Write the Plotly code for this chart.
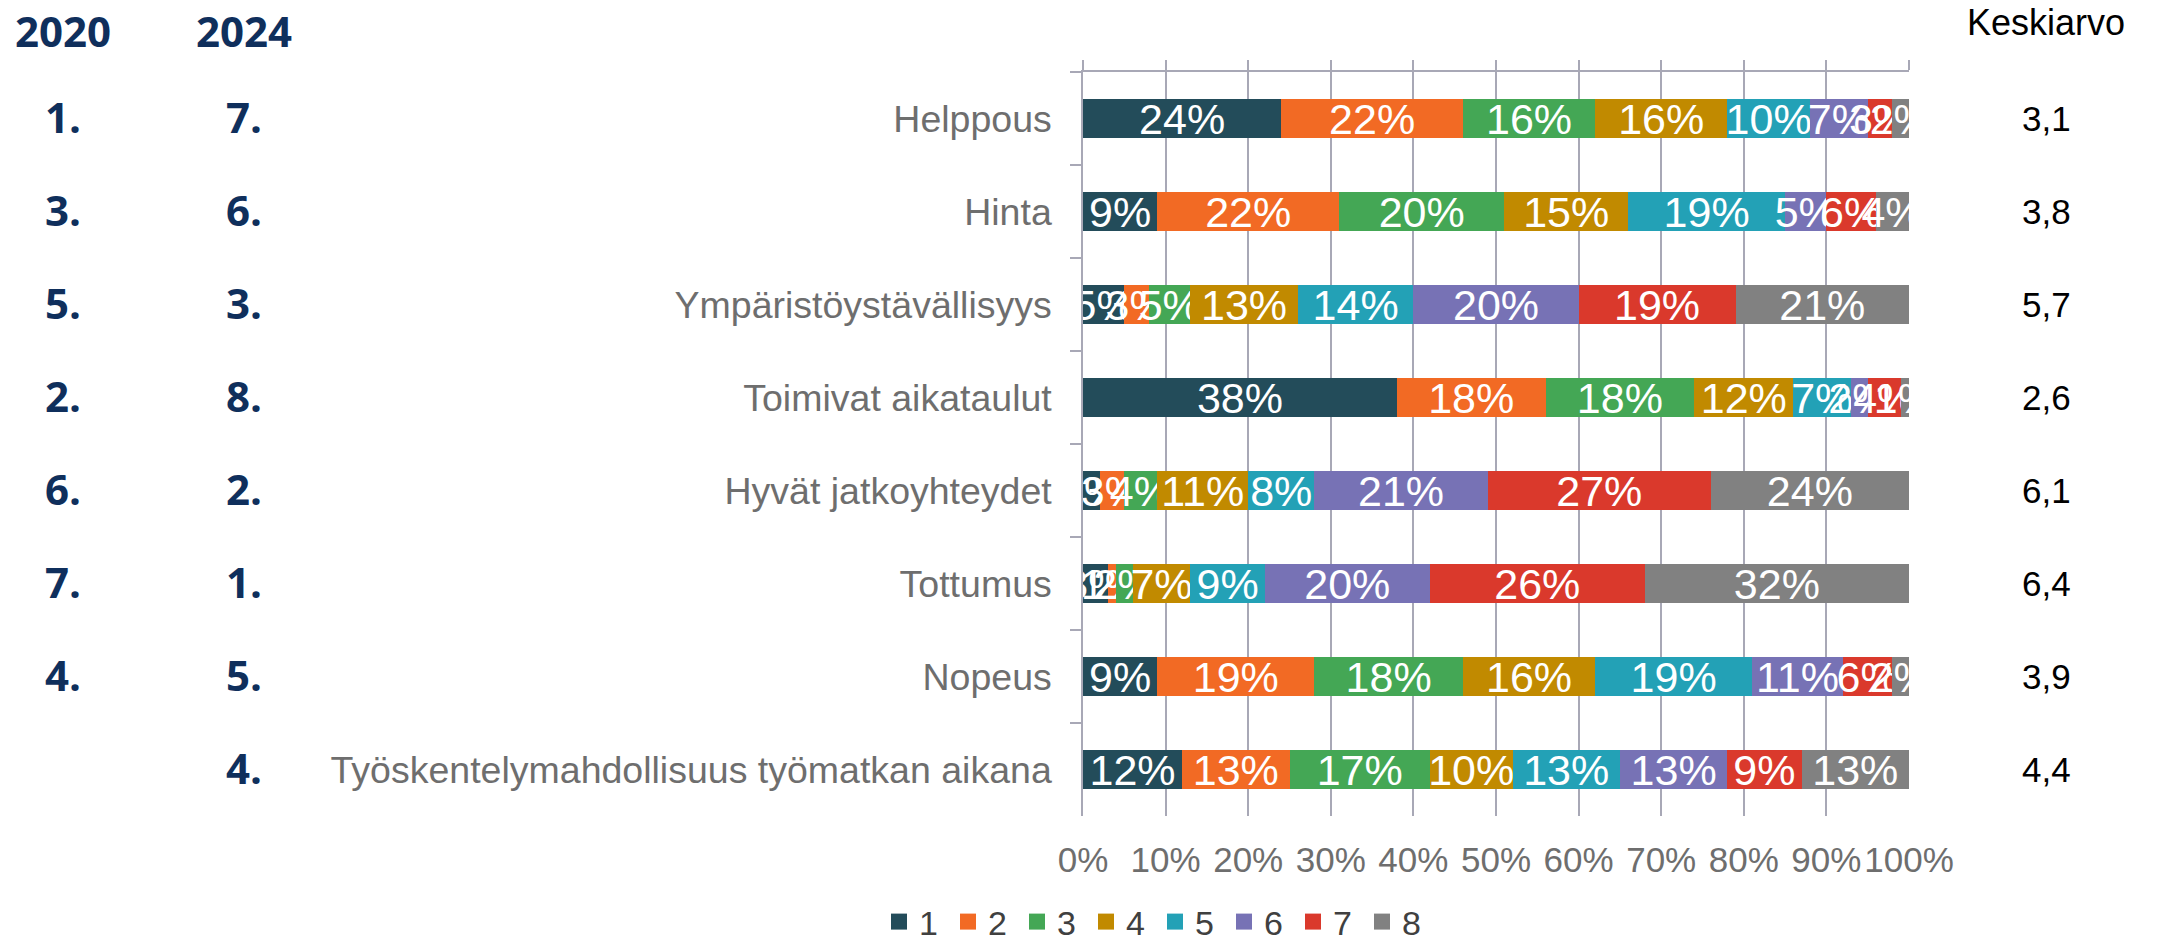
import plotly.graph_objects as go

categories = ["Helppous", "Hinta", "Ympäristöystävällisyys", "Toimivat aikataulut",
              "Hyvät jatkoyhteydet", "Tottumus", "Nopeus",
              "Työskentelymahdollisuus työmatkan aikana"]
series_names = ["1", "2", "3", "4", "5", "6", "7", "8"]
s1 = [24, 9, 5, 38, 2, 3, 9, 12]
s2 = [22, 22, 3, 18, 3, 1, 19, 13]
s3 = [16, 20, 5, 18, 4, 2, 18, 17]
s4 = [16, 15, 13, 12, 11, 7, 16, 10]
s5 = [10, 19, 14, 7, 8, 9, 19, 13]
s6 = [7, 5, 20, 2, 21, 20, 11, 13]
s7 = [3, 6, 19, 4, 27, 26, 6, 9]
s8 = [2, 4, 21, 1, 24, 32, 2, 13]
ranks_2020 = ["1.", "3.", "5.", "2.", "6.", "7.", "4.", ""]
ranks_2024 = ["7.", "6.", "3.", "8.", "2.", "1.", "5.", "4."]
averages = ["3,1", "3,8", "5,7", "2,6", "6,1", "6,4", "3,9", "4,4"]
x_ticks = list(range(0, 101, 10))
x_ticktext = [f"{v}%" for v in x_ticks]

colors = ["#234C5A", "#F26A24", "#44A755", "#C18A00", "#23A1B6", "#7772B5", "#DA392C", "#818181"]
series = [s1, s2, s3, s4, s5, s6, s7, s8]

W, H = 2162, 941
L, R, T, B = 1083, 253, 72, 125
pw = W - L - R
ph = H - T - B


def px_x(p):
    return (p - L) / pw


def px_y(p):
    return (H - B - p) / ph


fig = go.Figure()
for name, vals, col in zip(series_names, series, colors):
    fig.add_trace(go.Bar(
        y=categories, x=vals, name=name, orientation="h", showlegend=False,
        marker=dict(color=col, line=dict(width=0)),
        text=[f"{v}%" for v in vals], textposition="inside",
        insidetextanchor="middle", textangle=0, constraintext="none",
        textfont=dict(family="Liberation Sans", size=43, color="white"),
        hoverinfo="skip",
    ))
# legend entries (square swatches)
for name, col in zip(series_names, colors):
    fig.add_trace(go.Scatter(x=[None], y=[None], mode="markers", name=name,
                             marker=dict(symbol="square", size=16, color=col),
                             hoverinfo="skip"))

# empty trace to host the top axis
fig.add_trace(go.Scatter(x=[], y=[], xaxis="x2", yaxis="y", showlegend=False, hoverinfo="skip"))

axis_col = "#A8A8B6"
fig.update_layout(
    width=W, height=H, autosize=False,
    margin=dict(l=L, r=R, t=T, b=B, pad=0, autoexpand=False),
    barmode="stack", bargap=0.58,
    plot_bgcolor="white", paper_bgcolor="white",
    font=dict(family="Liberation Sans"),
    xaxis=dict(range=[0, 100], tickvals=x_ticks, ticktext=x_ticktext, showgrid=True,
               gridcolor=axis_col, gridwidth=1.5, zeroline=False, showline=False,
               ticks="", tickangle=0, tickfont=dict(size=35, color="#6E6E6E"),
               ticklabelstandoff=20, fixedrange=True),
    xaxis2=dict(range=[0, 100], tickvals=x_ticks, overlaying="x", side="top", anchor="y",
                showline=True, linecolor=axis_col, linewidth=1.5, ticks="outside",
                ticklen=10, tickcolor=axis_col, tickwidth=1.5, showticklabels=False,
                showgrid=False, zeroline=False),
    yaxis=dict(type="category", categoryorder="array", categoryarray=categories,
               autorange="reversed", showline=True, linecolor=axis_col, linewidth=1.5,
               ticks="outside", ticklen=11, tickson="boundaries", tickcolor=axis_col,
               tickwidth=1.5, tickfont=dict(size=37.5, color="#6E6E6E"),
               ticklabelstandoff=22, showgrid=False, zeroline=False),
    legend=dict(orientation="h", x=px_x(1155), xanchor="center",
                yref="container", y=(H - 922) / H, yanchor="middle",
                font=dict(size=34, color="#404040"), traceorder="normal",
                itemwidth=30, entrywidth=24, entrywidthmode="pixels"),
)

rank_font = dict(family="Open Sans", size=42, color="#0F2F5C", weight="bold")
ann = []
ann.append(dict(text="<b>2020</b>", x=px_x(63), y=px_y(30), xref="paper", yref="paper",
                showarrow=False, xanchor="center", yanchor="middle", font=rank_font))
ann.append(dict(text="<b>2024</b>", x=px_x(244), y=px_y(30), xref="paper", yref="paper",
                showarrow=False, xanchor="center", yanchor="middle", font=rank_font))
ann.append(dict(text="Keskiarvo", x=px_x(2046), y=px_y(0), xref="paper", yref="paper",
                showarrow=False, xanchor="center", yanchor="top",
                font=dict(family="Liberation Sans", size=36, color="#000000")))
for cat, r0, r1, avg in zip(categories, ranks_2020, ranks_2024, averages):
    if r0:
        ann.append(dict(text=f"<b>{r0}</b>", x=px_x(63), y=cat, xref="paper", yref="y",
                        showarrow=False, xanchor="center", yanchor="middle", font=rank_font,
                        yshift=2))
    ann.append(dict(text=f"<b>{r1}</b>", x=px_x(244), y=cat, xref="paper", yref="y",
                    showarrow=False, xanchor="center", yanchor="middle", font=rank_font,
                    yshift=2))
    ann.append(dict(text=avg, x=px_x(2046), y=cat, xref="paper", yref="y",
                    showarrow=False, xanchor="center", yanchor="middle",
                    font=dict(family="Liberation Sans", size=35, color="#000000")))
fig.update_layout(annotations=ann)

fig.write_html("out.html", config={"displayModeBar": False},
               post_script="document.body.style.margin='0';")
